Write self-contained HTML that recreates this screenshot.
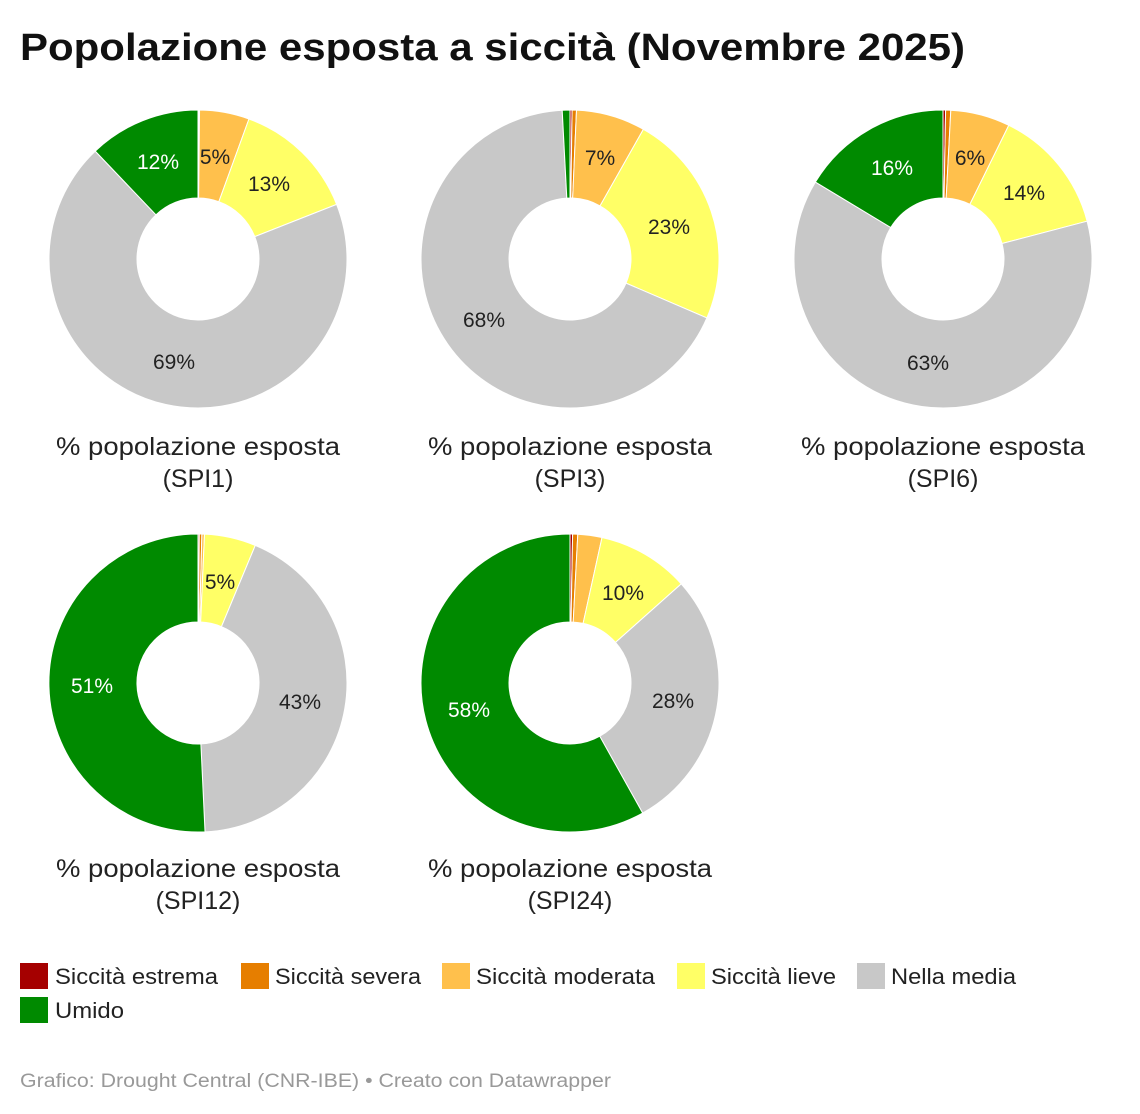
<!DOCTYPE html>
<html><head><meta charset="utf-8"><style>
body{margin:0;background:#fff;font-family:"Liberation Sans",Arial,sans-serif;}
svg{display:block}
</style></head><body>
<svg id="s" width="1140" height="1114" xmlns="http://www.w3.org/2000/svg" font-family="Liberation Sans, Arial, sans-serif">
<text x="20" y="60" font-size="38" font-weight="bold" fill="#111" textLength="945" lengthAdjust="spacingAndGlyphs">Popolazione esposta a siccità (Novembre 2025)</text>
<g id="pies"></g>
<g font-size="25" fill="#222" text-anchor="middle">
<text x="198" y="455" textLength="284" lengthAdjust="spacingAndGlyphs">% popolazione esposta</text><text x="198" y="487">(SPI1)</text>
<text x="570" y="455" textLength="284" lengthAdjust="spacingAndGlyphs">% popolazione esposta</text><text x="570" y="487">(SPI3)</text>
<text x="943" y="455" textLength="284" lengthAdjust="spacingAndGlyphs">% popolazione esposta</text><text x="943" y="487">(SPI6)</text>
<text x="198" y="877" textLength="284" lengthAdjust="spacingAndGlyphs">% popolazione esposta</text><text x="198" y="909">(SPI12)</text>
<text x="570" y="877" textLength="284" lengthAdjust="spacingAndGlyphs">% popolazione esposta</text><text x="570" y="909">(SPI24)</text>
</g>
<g font-size="22" fill="#222">
<rect x="20" y="963" width="28" height="26" fill="#a50000"/><text x="55" y="984" textLength="163" lengthAdjust="spacingAndGlyphs">Siccità estrema</text>
<rect x="241" y="963" width="28" height="26" fill="#e67e00"/><text x="275" y="984" textLength="146" lengthAdjust="spacingAndGlyphs">Siccità severa</text>
<rect x="442" y="963" width="28" height="26" fill="#ffc04c"/><text x="476" y="984" textLength="179" lengthAdjust="spacingAndGlyphs">Siccità moderata</text>
<rect x="677" y="963" width="28" height="26" fill="#ffff66"/><text x="711" y="984" textLength="125" lengthAdjust="spacingAndGlyphs">Siccità lieve</text>
<rect x="857" y="963" width="28" height="26" fill="#c8c8c8"/><text x="891" y="984" textLength="125" lengthAdjust="spacingAndGlyphs">Nella media</text>
<rect x="20" y="997" width="28" height="26" fill="#008a00"/><text x="55" y="1018" textLength="69" lengthAdjust="spacingAndGlyphs">Umido</text>
</g>
<text x="20" y="1087" font-size="19" fill="#999" textLength="591" lengthAdjust="spacingAndGlyphs">Grafico: Drought Central (CNR-IBE) • Creato con Datawrapper</text>
</svg>
<script>
var C=["#a50000","#e67e00","#ffc04c","#ffff66","#c8c8c8","#008a00"];
var P=[
 {cx:198,cy:259,b:[0,0.2,0.6,20,68.5,316.4,360],L:[[215,157,"5%","#222"],[269,184,"13%","#222"],[174,362,"69%","#222"],[158,162,"12%","#fff"]]},
 {cx:570,cy:259,b:[0,0.8,2.5,29.5,113.3,357,360],L:[[600,158,"7%","#222"],[669,227,"23%","#222"],[484,320,"68%","#222"]]},
 {cx:943,cy:259,b:[0,1,3,26.2,75.3,301.1,360],L:[[970,158,"6%","#222"],[1024,193,"14%","#222"],[928,363,"63%","#222"],[892,168,"16%","#fff"]]},
 {cx:198,cy:683,b:[0,0.5,1.5,2.5,22.6,177.3,360],L:[[220,582,"5%","#222"],[300,702,"43%","#222"],[92,686,"51%","#fff"]]},
 {cx:570,cy:683,b:[0,1,3,12.4,48.3,150.8,360],L:[[623,593,"10%","#222"],[673,701,"28%","#222"],[469,710,"58%","#fff"]]}
];
var R=149,r=61,g=document.getElementById("pies"),h="";
function pt(cx,cy,rad,a){a=(a-90)*Math.PI/180;return (cx+rad*Math.cos(a)).toFixed(2)+","+(cy+rad*Math.sin(a)).toFixed(2);}
P.forEach(function(p){
 for(var i=0;i<6;i++){var a0=p.b[i],a1=p.b[i+1];if(a1-a0<=0)continue;var lg=a1-a0>180?1:0;
  h+='<path d="M'+pt(p.cx,p.cy,R,a0)+' A'+R+','+R+' 0 '+lg+' 1 '+pt(p.cx,p.cy,R,a1)+' L'+pt(p.cx,p.cy,r,a1)+' A'+r+','+r+' 0 '+lg+' 0 '+pt(p.cx,p.cy,r,a0)+' Z" fill="'+C[i]+'" stroke="#fff" stroke-width="1"/>';}
 p.L.forEach(function(l){h+='<text x="'+l[0]+'" y="'+(l[1]+7)+'" font-size="21" text-anchor="middle" fill="'+l[3]+'">'+l[2]+'</text>';});
});
g.innerHTML=h;
</script>
</body></html>
